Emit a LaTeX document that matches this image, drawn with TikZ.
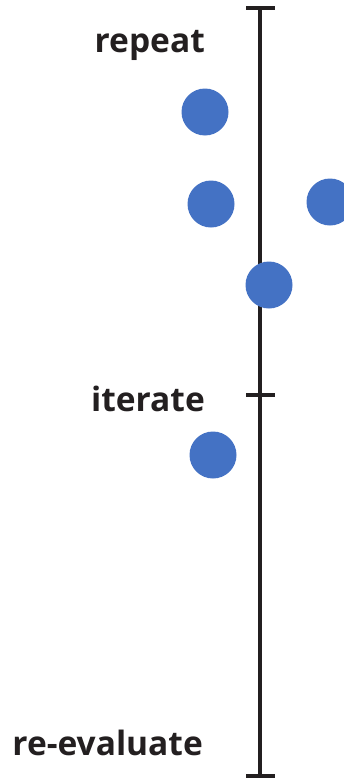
\documentclass[tikz,border=0pt]{standalone}
\usepackage{fontspec}
\setmainfont{Open Sans}
\definecolor{dotblue}{HTML}{4472C4}
\definecolor{axisdark}{HTML}{231F20}
\begin{document}
\begin{tikzpicture}[x=1pt,y=-1pt,
  axis/.style={draw=axisdark,line width=4pt},
  dotnode/.style={circle,fill=dotblue,minimum size=47pt,inner sep=0pt},
  lbl/.style={anchor=base east,font=\fontsize{33.5}{40}\selectfont\bfseries,text=axisdark,inner sep=0pt}]
\useasboundingbox (0,0) rectangle (344,779);
\coordinate (top) at (260,8);
\coordinate (mid) at (260,395);
\coordinate (bot) at (260,776);
\coordinate (topL) at (246,8);
\coordinate (topR) at (275,8);
\coordinate (midL) at (246,395);
\coordinate (midR) at (275,395);
\coordinate (botL) at (246,776);
\coordinate (botR) at (275,776);
\draw[axis] (top) -- (bot);
\draw[axis] (topL) -- (topR);
\draw[axis] (midL) -- (midR);
\draw[axis] (botL) -- (botR);
\node[lbl] (repeat) at (205,52) {repeat};
\node[lbl] (iterate) at (205,411) {iterate};
\node[lbl] (reeval) at (203,755) {re-evaluate};
\node[dotnode] (d1) at (205,112) {};
\node[dotnode] (d2) at (211,204) {};
\node[dotnode] (d3) at (330,202) {};
\node[dotnode] (d4) at (269,285) {};
\node[dotnode] (d5) at (213,455) {};
\end{tikzpicture}
\end{document}
